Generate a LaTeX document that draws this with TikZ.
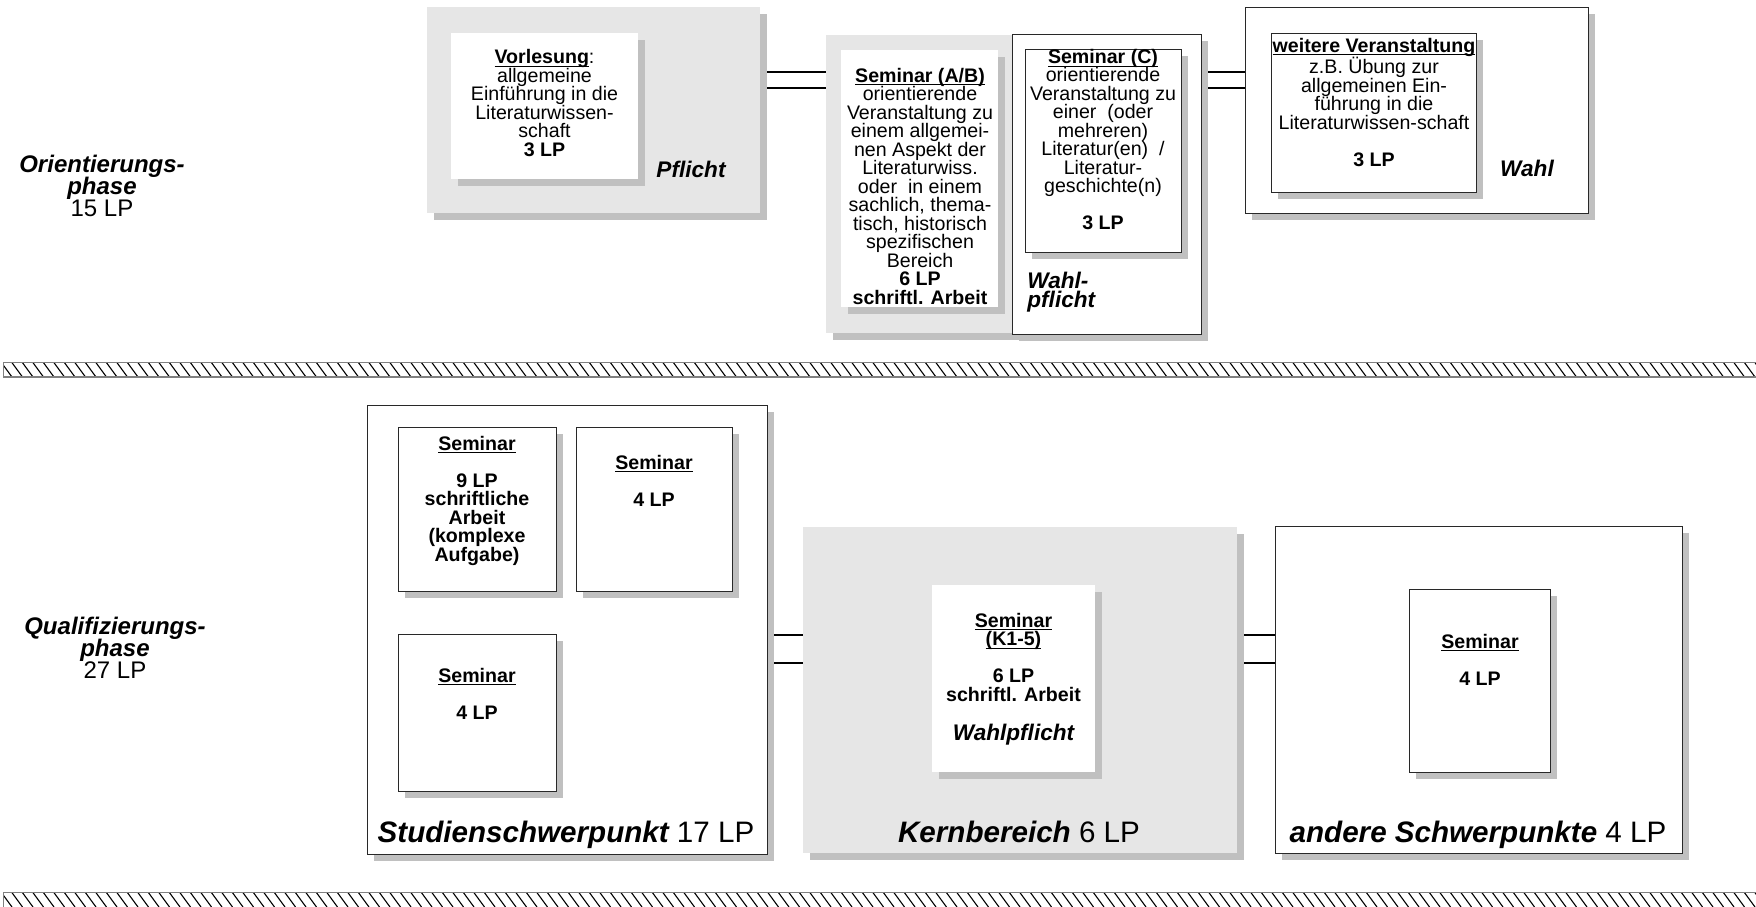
\documentclass[tikz,border=0pt]{standalone}
\usepackage{fontspec}
\setmainfont{Liberation Sans}
\usetikzlibrary{fit,shadows,backgrounds}
\definecolor{boxgray}{RGB}{230,230,230}
\definecolor{shadowgray}{RGB}{192,192,192}
\definecolor{edgecol}{RGB}{40,40,40}
\newcommand\myul[1]{\setbox0\hbox{#1}\rlap{\rule[-1.6pt]{\wd0}{0.5pt}}\box0}
\newcommand\bodyfont{\fontsize{9.8}{9.25}\selectfont\lineskiplimit=-20pt\relax}
\newcommand\lblfont{\fontsize{11.3}{9.5}\selectfont\bfseries\itshape\lineskiplimit=-20pt\relax}
\newcommand\phasefont{\fontsize{12}{11}\selectfont\lineskiplimit=-20pt\relax}
\newcommand\bigfont{\fontsize{14.8}{15}\selectfont}
\tikzset{
  boxbase/.style={inner sep=0pt, line width=0.5pt,
    drop shadow={shadow xshift=3.5pt, shadow yshift=-3.5pt, fill=shadowgray, opacity=1}},
  gbox/.style={boxbase, fill=boxgray},
  wbox/.style={boxbase, fill=white, draw=edgecol},
  wplain/.style={boxbase, fill=white},
  txt/.style={inner sep=0pt, align=center, font=\bodyfont},
  btxt/.style={inner sep=0pt, align=center, font=\bodyfont\bfseries},
  lbl/.style={inner sep=0pt, font=\lblfont},
  phaselbl/.style={inner sep=0pt, align=center, font=\phasefont},
  biglbl/.style={inner sep=0pt, font=\bigfont},
  conn/.style={line width=0.7pt, black},
  hatchline/.style={line width=0.55pt, black},
  bandtop/.style={draw=gray, line width=0.5pt},
  bandbot/.style={draw=gray, line width=1pt}
}
\begin{document}
\begin{tikzpicture}[x=0.5pt,y=-0.5pt]
\useasboundingbox (0,0) rectangle (1756,906);

% ---------- top row ----------
\node[gbox, fit={(427,7) (760,213)}] (pf) {};
\node[wplain, fit={(451,33) (638,179)}] (vl) {};
\node[gbox, fit={(826,35) (1020,333)}] (ab) {};
\node[wplain, fit={(841,50) (998,307)}] (abi) {};
\node[wbox, fit={(1012,34) (1201,334)}] (cc) {};
\node[wbox, fit={(1025,49) (1181,252)}] (cci) {};
\node[wbox, fit={(1245,7) (1588,213)}] (wa) {};
\node[wbox, fit={(1271,33) (1476,192)}] (wai) {};

\node[txt, anchor=north] (tvl) at (544.5,49) {\myul{\bfseries Vorlesung}:\\allgemeine\\Einführung in die\\Literaturwissen-\\schaft\\\bfseries 3 LP};
\node[lbl, anchor=base] (tpf) at (691,177) {Pflicht};
\node[txt, anchor=north] (tab) at (920,67.5) {\myul{\bfseries Seminar (A/B)}\\orientierende\\Veranstaltung zu\\einem allgemei-\\nen Aspekt der\\Literaturwiss.\\oder\ \ in einem\\sachlich, thema-\\tisch, historisch\\spezifischen\\Bereich\\\bfseries 6 LP\\\bfseries schriftl. Arbeit};
\node[txt, anchor=north] (tcc) at (1103,48.8) {\myul{\bfseries Seminar (C)}\\orientierende\\Veranstaltung zu\\einer\ \ (oder\\mehreren)\\Literatur(en)\ \ /\\Literatur-\\geschichte(n)\\[9.25pt]\bfseries 3 LP};
\node[lbl, align=left, anchor=north west] (twp) at (1027,272) {Wahl-\\pflicht};
\node[txt, anchor=north] (twa) at (1374,37.6) {\myul{\bfseries weitere Veranstaltung}\\[1.5pt]z.B. Übung zur\\allgemeinen Ein-\\führung in die\\Literaturwissen-schaft\\[9.25pt]\bfseries 3 LP};
\node[lbl, anchor=base] (twl) at (1527,176) {Wahl};

\node[phaselbl, anchor=north] (op) at (102,154.5) {\bfseries\itshape Orientierungs-\\\bfseries\itshape phase\\15 LP};

% ---------- bottom row ----------
\node[wbox, fit={(367,405) (767,854)}] (ss) {};
\node[wbox, fit={(398,427) (556,591)}] (s1) {};
\node[wbox, fit={(576,427) (732,591)}] (s2) {};
\node[wbox, fit={(398,634) (556,791)}] (s3) {};
\node[gbox, fit={(803,527) (1237,853)}] (kb) {};
\node[wplain, fit={(932,585) (1095,772)}] (kbi) {};
\node[wbox, fit={(1275,526) (1682,853)}] (an) {};
\node[wbox, fit={(1409,589) (1550,772)}] (ani) {};

\node[btxt, anchor=north] (ts1) at (477,435.6) {\myul{Seminar}\\[9.25pt]9 LP\\schriftliche\\Arbeit\\(komplexe\\Aufgabe)};
\node[btxt, anchor=north] (ts2) at (654,454.6) {\myul{Seminar}\\[9.25pt]4 LP};
\node[btxt, anchor=north] (ts3) at (477,667.6) {\myul{Seminar}\\[9.25pt]4 LP};
\node[biglbl, anchor=base] (tss) at (566,842) {{\bfseries\itshape Studienschwerpunkt} 17 LP};
\node[btxt, anchor=north] (tkb) at (1013.5,612.6) {\myul{Seminar}\\\myul{(K1-5)}\\[9.25pt]6 LP\\schriftl. Arbeit\\[10.2pt]{\fontsize{11.3}{9.25}\selectfont\itshape Wahlpflicht}};
\node[biglbl, anchor=base] (tkl) at (1019,842) {{\bfseries\itshape Kernbereich} 6 LP};
\node[btxt, anchor=north] (tan) at (1480,633.6) {\myul{Seminar}\\[9.25pt]4 LP};
\node[biglbl, anchor=base] (tal) at (1478,842) {{\bfseries\itshape andere Schwerpunkte} 4 LP};

\node[phaselbl, anchor=north] (qp) at (115,617) {\bfseries\itshape Qualifizierungs-\\\bfseries\itshape phase\\27 LP};

% ---------- connectors ----------
\begin{scope}[on background layer]
  \draw[conn] (pf.east |- 0,72) -- (ab.west |- 0,72);
  \draw[conn] (pf.east |- 0,88) -- (ab.west |- 0,88);
  \draw[conn] (cc.east |- 0,72) -- (wa.west |- 0,72);
  \draw[conn] (cc.east |- 0,88) -- (wa.west |- 0,88);
  \draw[conn] (ss.east |- 0,635) -- (kb.west |- 0,635);
  \draw[conn] (ss.east |- 0,663) -- (kb.west |- 0,663);
  \draw[conn] (kb.east |- 0,635) -- (an.west |- 0,635);
  \draw[conn] (kb.east |- 0,663) -- (an.west |- 0,663);
\end{scope}

% ---------- hatched bands ----------
\begin{scope}
  \clip (3,362) rectangle (1760,377);
  \foreach \x in {-20,-9.5,...,1765} \draw[hatchline] (\x,362) -- (\x+11,377);
\end{scope}
\draw[bandtop] (3,377) -- (3,362) -- (1760,362);
\draw[bandbot] (3,377) -- (1760,377);
\begin{scope}
  \clip (3,892) rectangle (1760,912);
  \foreach \x in {-20,-9.5,...,1765} \draw[hatchline] (\x,892) -- (\x+11,907);
\end{scope}
\draw[bandtop] (3,912) -- (3,892) -- (1760,892);
\end{tikzpicture}
\end{document}
